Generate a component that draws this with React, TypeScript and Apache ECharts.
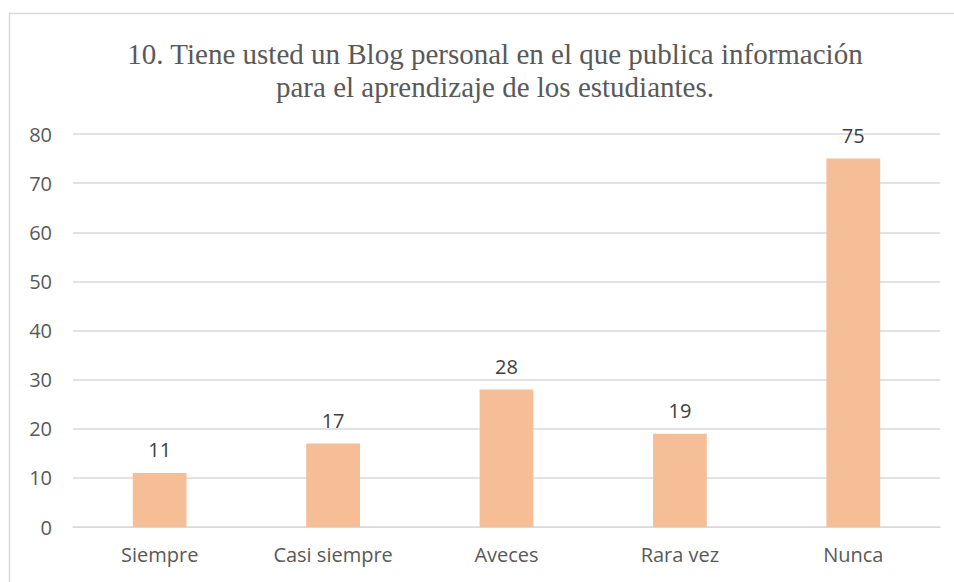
import React, { useEffect, useRef } from "react";
import * as echarts from "echarts";

const categories = ["Siempre", "Casi siempre", "Aveces", "Rara vez", "Nunca"];
const values = [11, 17, 28, 19, 75];
const titleLines = [
  "10. Tiene usted un Blog personal en el que publica información",
  "para el aprendizaje de los estudiantes.",
];

export default function App() {
  const ref = useRef<HTMLDivElement>(null);
  useEffect(() => {
    if (!ref.current) return;
    const chart = echarts.init(ref.current, undefined, { renderer: "svg" });
    chart.setOption({
      animation: false,
      backgroundColor: "#ffffff",
      graphic: [
        {
          type: "rect",
          shape: { x: 9.5, y: 13.5, width: 1000, height: 1000 },
          style: { fill: "none", stroke: "#d9d9d9", lineWidth: 1.5 },
          silent: true,
        },
      ],
      title: {
        text: titleLines.join("\n"),
        left: 490,
        top: 32,
        textAlign: "center",
        textStyle: {
          fontFamily: "Liberation Serif",
          fontWeight: "normal",
          fontSize: 29,
          color: "#595959",
          lineHeight: 33,
        },
      },
      grid: { left: 73, right: 14, top: 134, bottom: 55, containLabel: false },
      xAxis: {
        type: "category",
        data: categories,
        axisLine: { lineStyle: { color: "#d9d9d9" } },
        axisTick: { show: false },
        axisLabel: {
          color: "#595959",
          fontFamily: "Open Sans",
          fontSize: 20,
          margin: 17,
        },
      },
      yAxis: {
        type: "value",
        min: 0,
        max: 80,
        interval: 10,
        axisLine: { show: false },
        axisTick: { show: false },
        splitLine: { lineStyle: { color: "#d9d9d9", width: 1.5 } },
        axisLabel: {
          color: "#595959",
          fontFamily: "Open Sans",
          fontSize: 20,
          margin: 21,
        },
      },
      series: [
        {
          type: "bar",
          data: values,
          barWidth: "31%",
          itemStyle: { color: "#F5BE97" },
          label: {
            show: true,
            position: "top",
            distance: 13,
            color: "#404040",
            fontFamily: "Open Sans",
            fontSize: 20,
          },
        },
      ],
    });
    return () => chart.dispose();
  }, []);
  return (
    <div
      ref={ref}
      style={{ position: "fixed", left: 0, top: 0, width: 954, height: 582 }}
    />
  );
}
